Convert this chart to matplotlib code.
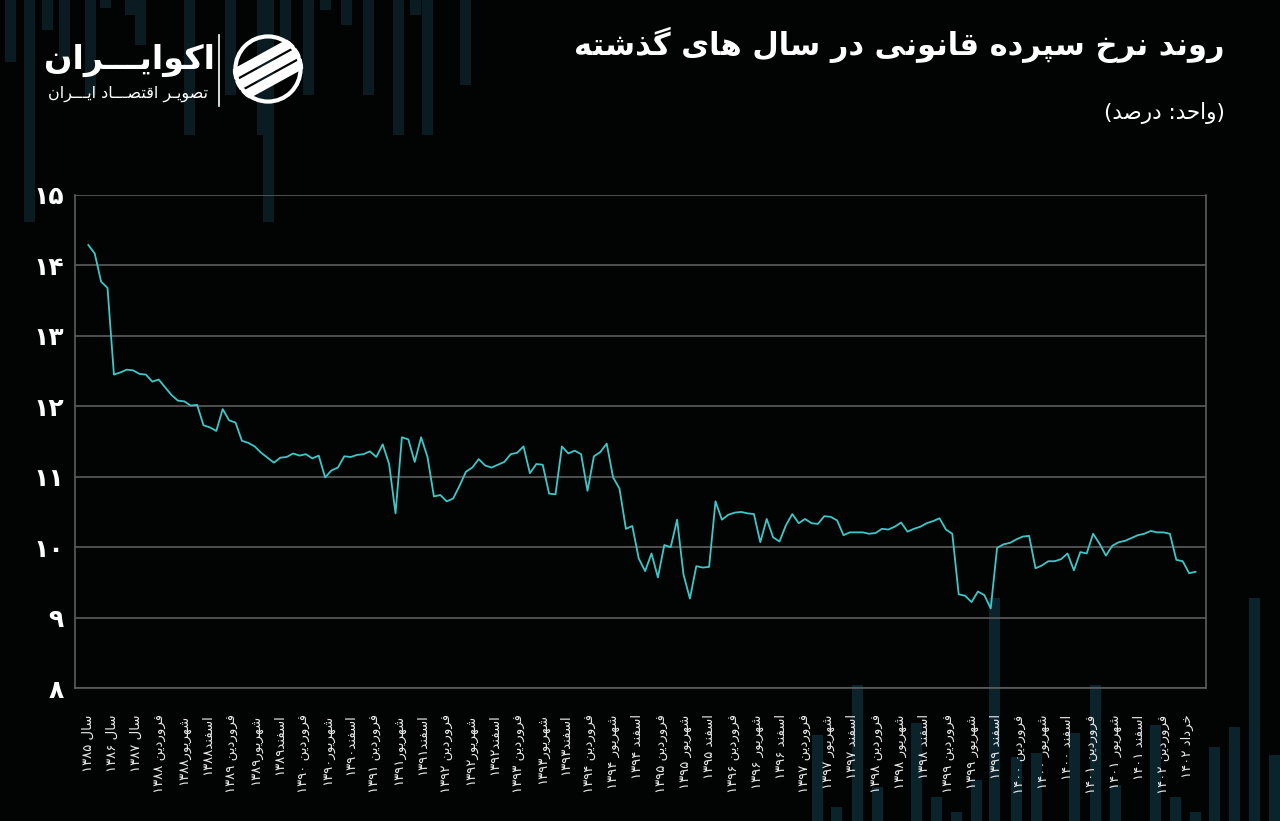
import re
import numpy as np
import matplotlib
matplotlib.use('Agg')
import matplotlib.pyplot as plt
from matplotlib.patches import Circle

# ---- data ----
rates = [
    14.29, 14.17, 13.77, 13.68, 12.45, 12.48, 12.52, 12.51, 12.46, 12.45,
    12.35, 12.38, 12.27, 12.16, 12.08, 12.07, 12.01, 12.02, 11.73, 11.70,
    11.65, 11.96, 11.80, 11.77, 11.51, 11.48, 11.43, 11.34, 11.27, 11.20,
    11.27, 11.28, 11.33, 11.30, 11.32, 11.26, 11.30, 10.99, 11.09, 11.13,
    11.29, 11.28, 11.31, 11.32, 11.36,
    11.28, 11.46, 11.18, 10.48, 11.56, 11.53, 11.21, 11.56, 11.28, 10.72,
    10.74, 10.65, 10.69, 10.87, 11.07, 11.13, 11.25, 11.16, 11.13, 11.17,
    11.21, 11.32, 11.34, 11.43, 11.05, 11.18, 11.17, 10.76, 10.75, 11.43,
    11.33, 11.37, 11.32, 10.80, 11.29, 11.35, 11.47, 10.99, 10.83, 10.26,
    10.30, 9.84, 9.66,
    9.91, 9.57, 10.03, 10.00, 10.39, 9.61, 9.27, 9.73, 9.71, 9.72,
    10.65, 10.39, 10.46, 10.49, 10.50, 10.48, 10.47, 10.07, 10.40, 10.14,
    10.08, 10.31, 10.47, 10.34, 10.40, 10.34, 10.33, 10.44, 10.43, 10.38,
    10.17, 10.21, 10.21, 10.21, 10.19, 10.20, 10.26, 10.25, 10.29, 10.35,
    10.22, 10.26, 10.29, 10.34,
    10.37, 10.41, 10.25, 10.19, 9.33, 9.31, 9.22, 9.37, 9.32, 9.13,
    9.99, 10.04, 10.06, 10.11, 10.15, 10.16, 9.70, 9.74, 9.80, 9.80,
    9.83, 9.91, 9.67, 9.93, 9.91, 10.19, 10.05, 9.88, 10.02, 10.07,
    10.09, 10.13, 10.17, 10.19, 10.23, 10.21, 10.21, 10.19, 9.82, 9.80,
    9.63, 9.65,
]

x_labels = [
    'سال ۱۳۸۵', 'سال ۱۳۸۶', 'سال ۱۳۸۷',
    'فروردین ۱۳۸۸', 'شهریور۱۳۸۸', 'اسفند۱۳۸۸',
    'فروردین ۱۳۸۹', 'شهریور۱۳۸۹', 'اسفند۱۳۸۹',
    'فروردین ۱۳۹۰', 'شهریور۱۳۹۰', 'اسفند۱۳۹۰',
    'فروردین ۱۳۹۱', 'شهریور۱۳۹۱', 'اسفند۱۳۹۱',
    'فروردین ۱۳۹۲', 'شهریور۱۳۹۲', 'اسفند۱۳۹۲',
    'فروردین ۱۳۹۳', 'شهریور۱۳۹۳', 'اسفند۱۳۹۳',
    'فروردین ۱۳۹۴', 'شهریور ۱۳۹۴', 'اسفند ۱۳۹۴',
    'فروردین ۱۳۹۵', 'شهریور ۱۳۹۵', 'اسفند ۱۳۹۵',
    'فروردین ۱۳۹۶', 'شهریور ۱۳۹۶', 'اسفند ۱۳۹۶',
    'فروردین ۱۳۹۷', 'شهریور ۱۳۹۷', 'اسفند ۱۳۹۷',
    'فروردین ۱۳۹۸', 'شهریور ۱۳۹۸', 'اسفند ۱۳۹۸',
    'فروردین ۱۳۹۹', 'شهریور ۱۳۹۹', 'اسفند ۱۳۹۹',
    'فروردین ۱۴۰۰', 'شهریور ۱۴۰۰', 'اسفند ۱۴۰۰',
    'فروردین ۱۴۰۱', 'شهریور ۱۴۰۱', 'اسفند ۱۴۰۱',
    'فروردین ۱۴۰۲', 'خرداد ۱۴۰۲',
]

y_ticks = [8, 9, 10, 11, 12, 13, 14, 15]

title = 'روند نرخ سپرده قانونی در سال های گذشته'
unit = '(واحد: درصد)'
brand = 'اکوایـــران'
brand_sub = 'تصویـر اقتصـــاد ایـــران'

# decorative background bars (pixel space)
top_bar_x = [10, 29, 47, 64, 90, 105, 130, 140, 189, 230, 262, 268, 285, 308, 325, 346, 368, 398, 415, 427, 465]
top_bar_len = [62, 222, 30, 60, 95, 8, 15, 45, 135, 95, 135, 222, 40, 95, 10, 25, 95, 135, 15, 135, 85]
bot_bar_x = [817, 836, 857, 877, 916, 936, 956, 976, 994, 1016, 1036, 1074, 1095, 1115, 1155, 1175, 1195, 1214, 1234, 1254, 1274]
bot_bar_len = [86, 14, 136, 34, 98, 24, 9, 41, 223, 64, 68, 88, 136, 36, 96, 24, 9, 74, 94, 223, 66]

# ---- minimal Persian shaping (matplotlib has no complex text layout) ----
FORMS = {
    'ا': ('\uFE8D', '\uFE8E', None, None),
    'پ': ('\uFB56', '\uFB57', '\uFB58', '\uFB59'),
    'ت': ('\uFE95', '\uFE96', '\uFE97', '\uFE98'),
    'ح': ('\uFEA1', '\uFEA2', '\uFEA3', '\uFEA4'),
    'خ': ('\uFEA5', '\uFEA6', '\uFEA7', '\uFEA8'),
    'د': ('\uFEA9', '\uFEAA', None, None),
    'ذ': ('\uFEAB', '\uFEAC', None, None),
    'ر': ('\uFEAD', '\uFEAE', None, None),
    'س': ('\uFEB1', '\uFEB2', '\uFEB3', '\uFEB4'),
    'ش': ('\uFEB5', '\uFEB6', '\uFEB7', '\uFEB8'),
    'ص': ('\uFEB9', '\uFEBA', '\uFEBB', '\uFEBC'),
    'ف': ('\uFED1', '\uFED2', '\uFED3', '\uFED4'),
    'ق': ('\uFED5', '\uFED6', '\uFED7', '\uFED8'),
    'ک': ('\uFB8E', '\uFB8F', '\uFB90', '\uFB91'),
    'گ': ('\uFB92', '\uFB93', '\uFB94', '\uFB95'),
    'ل': ('\uFEDD', '\uFEDE', '\uFEDF', '\uFEE0'),
    'ن': ('\uFEE5', '\uFEE6', '\uFEE7', '\uFEE8'),
    'ه': ('\uFEE9', '\uFEEA', '\uFEEB', '\uFEEC'),
    'و': ('\uFEED', '\uFEEE', None, None),
    'ی': ('\uFBFC', '\uFBFD', '\uFBFE', '\uFBFF'),
    'ـ': ('\u0640', '\u0640', '\u0640', '\u0640'),
}
DIGITS = '0123456789۰۱۲۳۴۵۶۷۸۹'
MIRROR = str.maketrans('()', ')(')


def shape(s):
    out = []
    for i, ch in enumerate(s):
        if ch not in FORMS:
            out.append(ch)
            continue
        iso, fin, ini, med = FORMS[ch]
        prev = s[i - 1] if i > 0 else ''
        nxt = s[i + 1] if i < len(s) - 1 else ''
        p = prev in FORMS and FORMS[prev][2] is not None
        q = ini is not None and nxt in FORMS
        out.append(med if p and q else fin if p else ini if q else iso)
    return ''.join(out)


def fa(s):
    runs = re.findall('[%s]+|[^%s]+' % (DIGITS, DIGITS), shape(s))
    vis = []
    for r in reversed(runs):
        vis.append(r if r[0] in DIGITS else r[::-1].translate(MIRROR))
    return ''.join(vis)


def fa_num(n):
    return str(n).translate(str.maketrans('0123456789', '۰۱۲۳۴۵۶۷۸۹'))


plt.rcParams['font.family'] = ['DejaVu Sans']

W, H = 1280, 821
fig = plt.figure(figsize=(W / 100, H / 100), dpi=100, facecolor='#020303')

# background decoration
bg = fig.add_axes([0, 0, 1, 1], zorder=-5)
bg.set_xlim(0, W)
bg.set_ylim(H, 0)
bg.axis('off')
bg.bar(top_bar_x, top_bar_len, width=11, bottom=0, color='#0a1c22')
bg.bar(bot_bar_x, [-v for v in bot_bar_len], width=11, bottom=H, color='#0b242c')

# main chart
ax = fig.add_axes([75 / W, 1 - 688 / H, (1206 - 75) / W, (688 - 195) / H])
ax.set_facecolor('none')
x = np.arange(len(rates))
ax.plot(x, rates, color='#3cc8c8', lw=1.3, zorder=3)

ax.set_ylim(8, 15)
ax.set_xlim(-2.08, len(rates) - 1 + 1.64)
ax.set_yticks(y_ticks)
ax.set_yticklabels([fa_num(v) for v in y_ticks], fontsize=18, fontweight='bold', color='white')
ax.grid(axis='y', color='#5c5c5c', lw=1.2)
ax.set_axisbelow(True)

tick_pos = np.linspace(0, 171.7, len(x_labels))
ax.set_xticks(tick_pos)
ax.set_xticklabels([fa(l) for l in x_labels], rotation=90, fontsize=9.5, color='#e8e8e8', va='top')
ax.tick_params(axis='both', length=0)
ax.tick_params(axis='x', pad=19)
ax.tick_params(axis='y', pad=8)

for side in ['left', 'right', 'bottom']:
    ax.spines[side].set_color('#5c5c5c')
    ax.spines[side].set_linewidth(1.2)
ax.spines['top'].set_visible(False)

# titles
fig.text(1225 / W, 1 - 45 / H, fa(title), ha='right', va='center', fontsize=22,
         fontweight='bold', color='white')
fig.text(1225 / W, 1 - 113 / H, fa(unit), ha='right', va='center', fontsize=15.5, color='white')

# logo
fig.text(130 / W, 1 - 60 / H, fa(brand), ha='center', va='center', fontsize=24,
         fontweight='bold', color='white')
fig.text(128 / W, 1 - 94 / H, fa(brand_sub), ha='center', va='center', fontsize=11.5, color='white')
fig.add_artist(plt.Line2D([219 / W, 219 / W], [1 - 35 / H, 1 - 106 / H], color='white', lw=1.2))

ic = fig.add_axes([231 / W, 1 - 106 / H, 74 / W, 74 / H])
ic.set_xlim(-1, 1)
ic.set_ylim(-1, 1)
ic.set_aspect('equal')
ic.axis('off')
clip = Circle((0, 0), 0.95, transform=ic.transData)
for off in [-0.55, 0.0, 0.55]:
    t = np.linspace(-1.3, 1.3, 2)
    ln, = ic.plot(t + off * 0.6, 0.55 * t + off, color='white', lw=7, solid_capstyle='butt')
    ln.set_clip_path(clip)
ring = Circle((0, 0), 0.88, fill=False, ec='white', lw=3)
ic.add_patch(ring)

fig.savefig('out.png', dpi=100, facecolor=fig.get_facecolor())
